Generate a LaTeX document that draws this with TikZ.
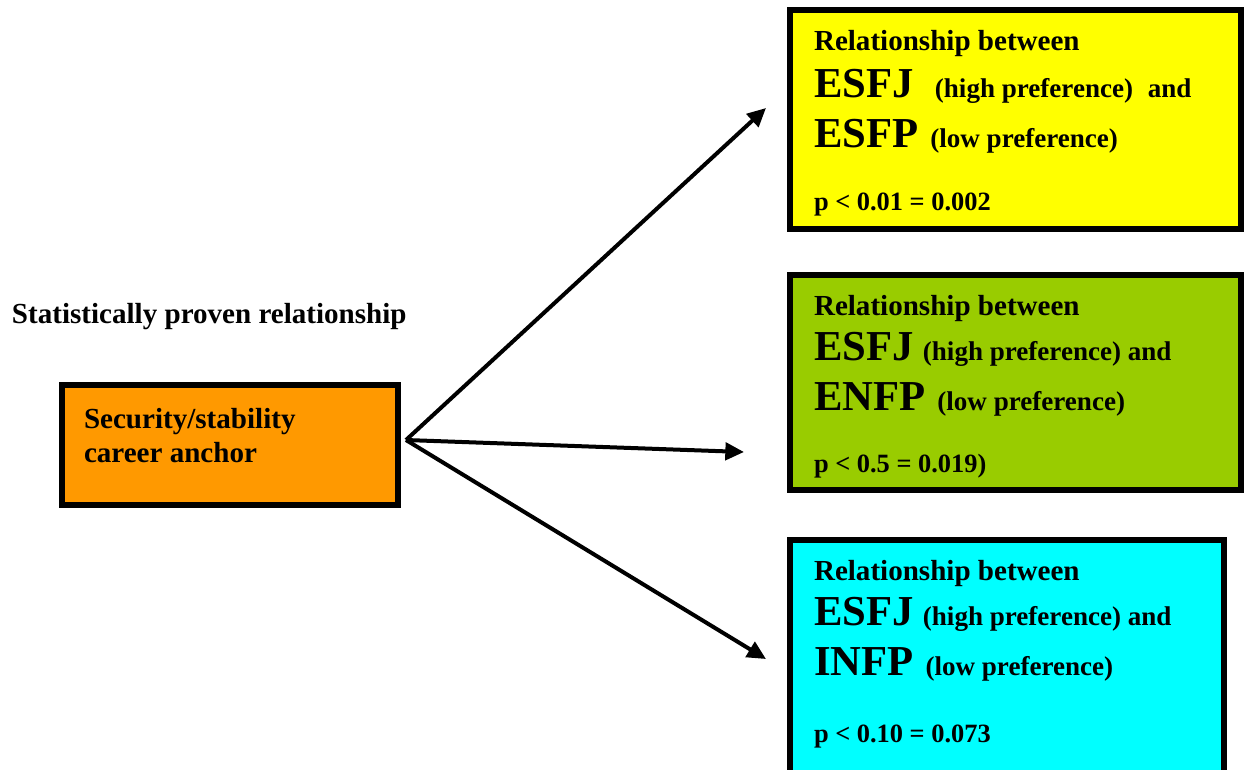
\documentclass[tikz,border=0pt]{standalone}
\usepackage{fontspec}
\setmainfont{Liberation Serif}
\usetikzlibrary{arrows.meta}
\definecolor{boxyellow}{HTML}{FFFF00}
\definecolor{boxgreen}{HTML}{99CC00}
\definecolor{boxcyan}{HTML}{00FFFF}
\definecolor{boxorange}{HTML}{FF9900}
\begin{document}
\begin{tikzpicture}[x=0.75pt,y=-0.75pt,
  box/.style={draw=black,line width=4.5pt,rectangle,inner sep=0pt,outer sep=0pt},
  txt/.style={anchor=base west,inner sep=0pt,outer sep=0pt,font=\bfseries\fontsize{20.3}{24}\selectfont},
  head/.style={txt,font=\bfseries\fontsize{21.8}{26}\selectfont},
  pval/.style={txt,font=\bfseries\fontsize{19.8}{24}\selectfont},
  arr/.style={line width=3pt,-{Triangle[length=14pt,width=13pt]}}]
\useasboundingbox (0,0) rectangle (1244,769);
% boxes
\node[box,fill=boxyellow,minimum width=338.25pt,minimum height=164.25pt] (yb) at (1015.5,119.5) {};
\node[box,fill=boxgreen,minimum width=338.25pt,minimum height=161.25pt] (gb) at (1015.5,382.5) {};
\node[box,fill=boxcyan,minimum width=325.5pt,minimum height=176.25pt] (cb) at (1007,657.5) {};
\node[box,fill=boxorange,minimum width=252pt,minimum height=90pt] (ob) at (230,445) {};
% left texts
\node[head] (stat) at (12,323) {Statistically proven relationship};
\node[head] (o1) at (84,428) {Security/stability};
\node[head] (o2) at (84,462) {career anchor};
% yellow texts
\node[head] (y1) at (814,50) {Relationship between};
\node[txt] (y2) at (814,97) {{\fontsize{32}{36}\selectfont ESFJ}\hspace{16pt}(high preference)\hspace{11pt}and};
\node[txt] (y3) at (814,147) {{\fontsize{32}{36}\selectfont ESFP}\hspace{9pt}(low preference)};
\node[pval] (y4) at (814,210) {p < 0.01 = 0.002};
% green texts
\node[head] (g1) at (814,315) {Relationship between};
\node[txt] (g2) at (814,360) {{\fontsize{32}{36}\selectfont ESFJ}\hspace{7pt}(high preference) and};
\node[txt] (g3) at (814,410) {{\fontsize{32}{36}\selectfont ENFP}\hspace{9pt}(low preference)};
\node[pval] (g4) at (814,472) {p < 0.5 = 0.019)};
% cyan texts
\node[head] (c1) at (814,580) {Relationship between};
\node[txt] (c2) at (814,625) {{\fontsize{32}{36}\selectfont ESFJ}\hspace{7pt}(high preference) and};
\node[txt] (c3) at (814,675) {{\fontsize{32}{36}\selectfont INFP}\hspace{9pt}(low preference)};
\node[pval] (c4) at (814,742) {p < 0.10 = 0.073};
% arrows
\coordinate (src) at (406,440);
\coordinate (t1) at (766,108);
\coordinate (t2) at (744,452);
\coordinate (t3) at (766,659);
\draw[arr] (src) -- (t1);
\draw[arr] (src) -- (t2);
\draw[arr] (src) -- (t3);
\end{tikzpicture}
\end{document}
